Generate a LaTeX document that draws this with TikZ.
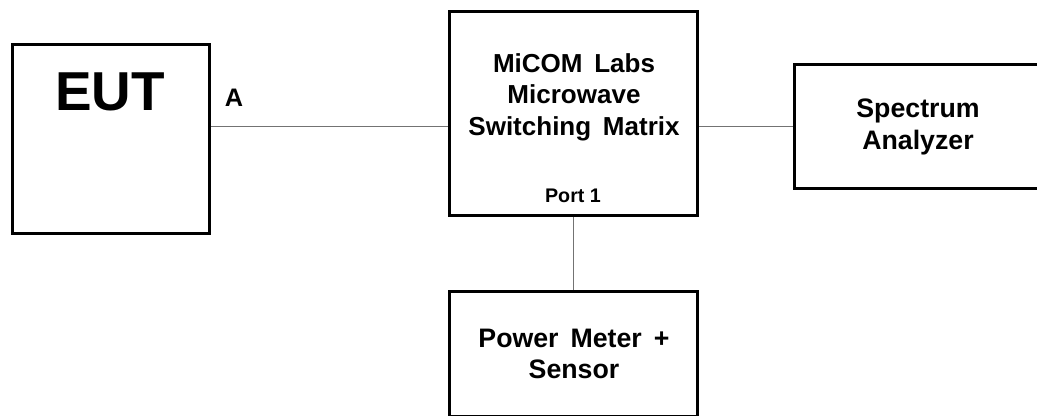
\documentclass[tikz,border=0pt]{standalone}
\usepackage{fontspec}
\setmainfont{Liberation Sans}
\begin{document}
\begin{tikzpicture}[x=0.025cm, y=0.025cm,
  unit/.style={draw, line width=2.2pt, inner sep=0pt},
  cable/.style={draw=black!55, line width=0.9pt},
  txt/.style={font=\fontsize{19}{22.5}\selectfont\bfseries, align=center, inner sep=0pt}]
\useasboundingbox (0,0) rectangle (1037,415);
\clip (0,0) rectangle (1037,415);
% boxes
\node[unit, minimum width=4.925cm, minimum height=4.725cm] (eut) at (111,276){};
\node[unit, minimum width=6.2cm, minimum height=5.1cm] (matrix) at (573.5,301.5){};
\node[unit, minimum width=6.175cm, minimum height=3.1cm] (sa) at (918,288.5){};
\node[unit, minimum width=6.2cm, minimum height=3.125cm] (pm) at (573.5,61){};
% texts
\node[txt, font=\fontsize{39}{47}\selectfont\bfseries] (eutname) at (110,323){EUT};
\node[txt, font=\fontsize{18}{22}\selectfont\bfseries] (porta) at (234,317){A};
\node[txt, font=\fontsize{18.5}{22.5}\selectfont\bfseries] (matrixname) at (574,318){MiCOM\hspace{0.45em}Labs\\Microwave\\Switching\hspace{0.45em}Matrix};
\node[txt, font=\fontsize{14}{17}\selectfont\bfseries] (port1) at (573,219){Port 1};
\node[txt] (saname) at (918,288){Spectrum\\Analyzer};
\node[txt] (pmname) at (574,61){Power\hspace{0.45em}Meter\hspace{0.45em}+\\Sensor};
% cables
\draw[cable] (eut.east |- sa.west) -- (matrix.west |- sa.west);
\draw[cable] (matrix.east |- sa.west) -- (sa.west);
\draw[cable] (matrix.south) -- (pm.north);
\end{tikzpicture}
\end{document}
